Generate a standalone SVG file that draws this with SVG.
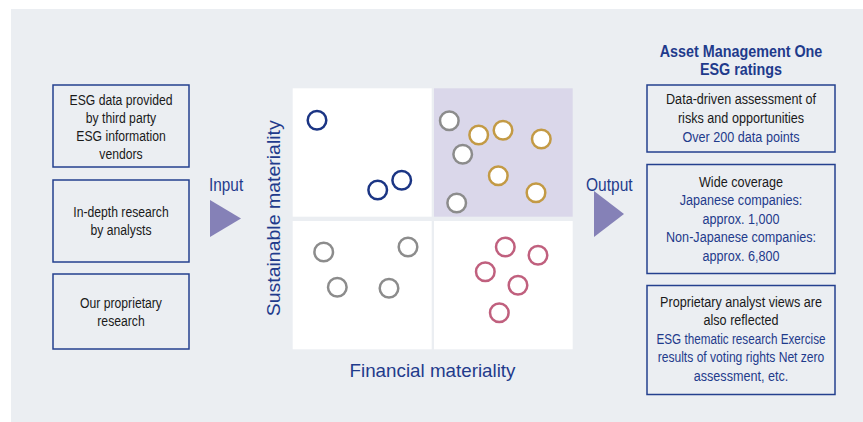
<svg xmlns="http://www.w3.org/2000/svg" width="863" height="422" viewBox="0 0 863 422">
<style>
.box{fill:none;stroke:#24408f;stroke-width:1.5}
.t{font-family:"Liberation Sans",Arial,sans-serif;font-size:15.5px;fill:#1a1a1a;text-anchor:middle}
.b{fill:#1f3b8c}
.hd{font-weight:bold;fill:#1f3b8c;font-size:16.5px}
.ax{font-family:"Liberation Sans",Arial,sans-serif;font-size:19px;fill:#1f3b8c;text-anchor:middle}
.io{font-family:"Liberation Sans",Arial,sans-serif;font-size:18.5px;fill:#1f3b8c}
.tri{fill:#8581b7}
.q{fill:#ffffff}
circle{fill:#ffffff;stroke-width:2.5}
.cb{stroke:#1b3584}
.cg{stroke:#8c8c8c}
.cy{stroke:#c39a45}
.cp{stroke:#c0607e}
</style>
<rect x="11" y="9" width="852" height="413" fill="#ebeef2"/>

<g id="input-1">
<rect class="box" x="53" y="85" width="136" height="82"/>
<g transform="translate(121 0) scale(0.786 1)">
<text class="t" x="0" y="105">ESG data provided</text>
<text class="t" x="0" y="123">by third party</text>
<text class="t" x="0" y="141">ESG information</text>
<text class="t" x="0" y="159">vendors</text>
</g>
</g>
<g id="input-2">
<rect class="box" x="53" y="180" width="136" height="82"/>
<g transform="translate(121 0) scale(0.786 1)">
<text class="t" x="0" y="217">In-depth research</text>
<text class="t" x="0" y="235">by analysts</text>
</g>
</g>
<g id="input-3">
<rect class="box" x="53" y="274" width="136" height="75"/>
<g transform="translate(121 0) scale(0.786 1)">
<text class="t" x="0" y="308">Our proprietary</text>
<text class="t" x="0" y="326">research</text>
</g>
</g>

<g id="connectors">
<g id="input-arrow">
<text class="io" transform="translate(209 191) scale(0.83 1)" x="0" y="0">Input</text>
<polygon class="tri" points="210,200 241,218.5 210,237"/>
</g>
<g id="output-arrow">
<text class="io" transform="translate(586 191) scale(0.84 1)" x="0" y="0">Output</text>
<polygon class="tri" points="594,191 624,214 594,237"/>
</g>
</g>

<g id="matrix">
<rect class="q" x="292.7" y="88.3" width="139" height="128.4"/>
<rect x="434" y="88.3" width="138.7" height="128.4" fill="#dad7ea"/>
<rect class="q" x="292.7" y="221" width="139" height="128.3"/>
<rect class="q" x="434" y="221" width="138.7" height="128.3"/>
<circle class="cb" cx="317" cy="120.3" r="9.3"/>
<circle class="cb" cx="377.7" cy="190" r="9.3"/>
<circle class="cb" cx="401.7" cy="180.3" r="9.3"/>
<circle class="cg" cx="449.3" cy="120.7" r="9.3"/>
<circle class="cy" cx="478.7" cy="135" r="9.3"/>
<circle class="cy" cx="503" cy="130.3" r="9.3"/>
<circle class="cy" cx="541.3" cy="139" r="9.3"/>
<circle class="cg" cx="462.7" cy="154.3" r="9.3"/>
<circle class="cy" cx="498.3" cy="175.7" r="9.3"/>
<circle class="cy" cx="536" cy="192.7" r="9.3"/>
<circle class="cg" cx="456.7" cy="203" r="9.3"/>
<circle class="cg" cx="323.7" cy="252" r="9.3"/>
<circle class="cg" cx="408" cy="247" r="9.3"/>
<circle class="cg" cx="337.3" cy="287.3" r="9.3"/>
<circle class="cg" cx="389" cy="288.3" r="9.3"/>
<circle class="cp" cx="505.3" cy="247" r="9.3"/>
<circle class="cp" cx="538" cy="255.3" r="9.3"/>
<circle class="cp" cx="485.3" cy="271.7" r="9.3"/>
<circle class="cp" cx="518" cy="285.3" r="9.3"/>
<circle class="cp" cx="499.3" cy="312.7" r="9.3"/>
<text class="ax" x="432.5" y="376.7" textLength="166" lengthAdjust="spacingAndGlyphs">Financial materiality</text>
<text class="ax" transform="translate(279.5,218.3) rotate(-90)" x="0" y="0" textLength="196" lengthAdjust="spacingAndGlyphs">Sustainable materiality</text>
</g>

<g id="output-title">
<g transform="translate(741 0) scale(0.87 1)">
<text class="t hd" x="0" y="57">Asset Management One</text>
<text class="t hd" x="0" y="75">ESG ratings</text>
</g>
</g>
<g id="output-1">
<rect class="box" x="647" y="85" width="188" height="67"/>
<g transform="translate(741 0) scale(0.814 1)">
<text class="t" x="0" y="104">Data-driven assessment of</text>
<text class="t" x="0" y="123">risks and opportunities</text>
<text class="t b" x="0" y="142">Over 200 data points</text>
</g>
</g>
<g id="output-2">
<rect class="box" x="647" y="164.5" width="188" height="109"/>
<g transform="translate(741 0) scale(0.814 1)">
<text class="t" x="0" y="187">Wide coverage</text>
<text class="t b" x="0" y="205.5">Japanese companies:</text>
<text class="t b" x="0" y="224">approx. 1,000</text>
<text class="t b" x="0" y="242.5">Non-Japanese companies:</text>
<text class="t b" x="0" y="261">approx. 6,800</text>
</g>
</g>
<g id="output-3">
<rect class="box" x="647" y="285.5" width="188" height="109"/>
<g transform="translate(741 0) scale(0.814 1)">
<text class="t" x="0" y="307">Proprietary analyst views are</text>
<text class="t" x="0" y="325.5">also reflected</text>
<text class="t b" x="0" y="344" textLength="207.6" lengthAdjust="spacingAndGlyphs">ESG thematic research Exercise</text>
<text class="t b" x="0" y="362.5" textLength="204.8" lengthAdjust="spacingAndGlyphs">results of voting rights Net zero</text>
<text class="t b" x="0" y="381">assessment, etc.</text>
</g>
</g>
</svg>
